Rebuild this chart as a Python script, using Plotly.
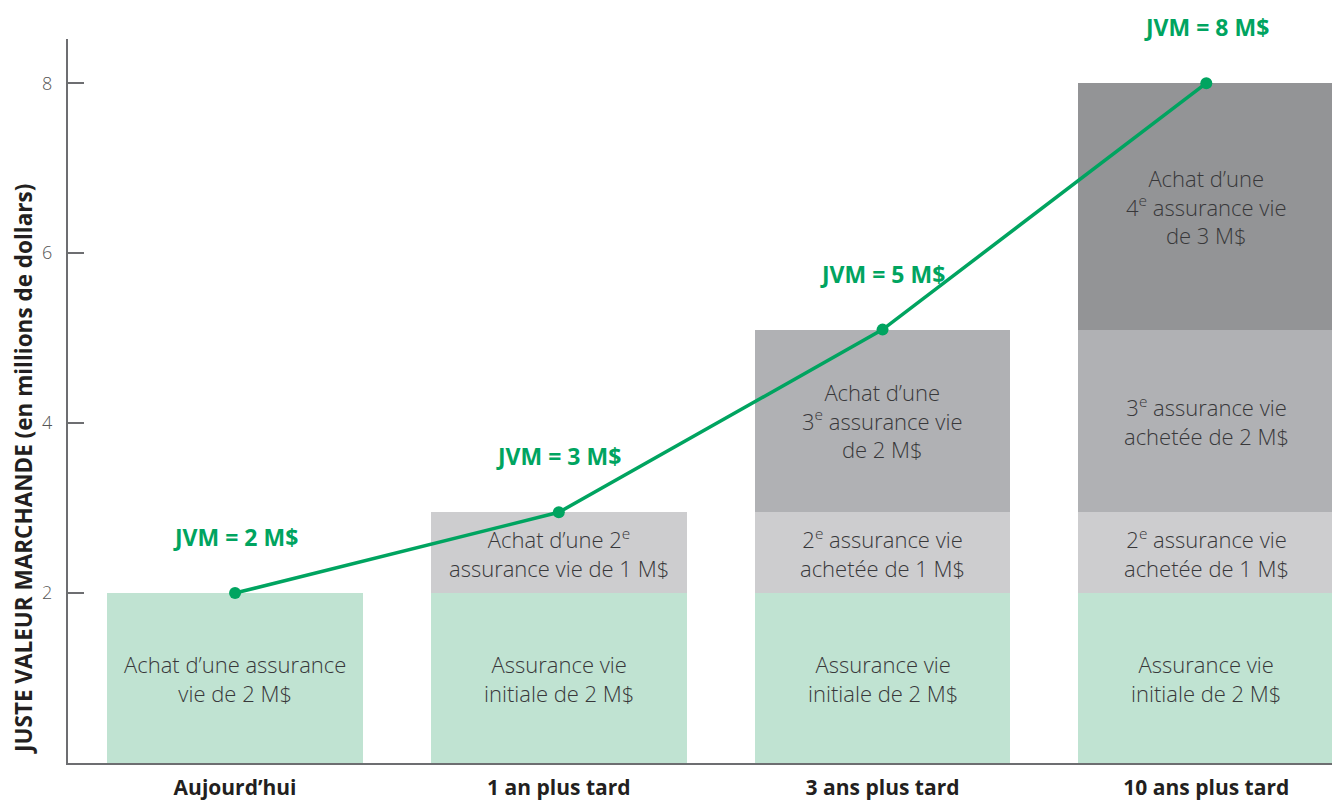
import plotly.graph_objects as go

categories = ["Aujourd’hui", "1 an plus tard", "3 ans plus tard", "10 ans plus tard"]
x_pos = [0, 1, 2, 3]
seg_initial = [2.0, 2.0, 2.0, 2.0]
seg_second = [0.0, 0.95, 0.95, 0.95]
seg_third = [0.0, 0.0, 2.15, 2.15]
seg_fourth = [0.0, 0.0, 0.0, 2.9]
jvm_values = [2.0, 2.95, 5.1, 8.0]
jvm_labels = ["JVM = 2 M$", "JVM = 3 M$", "JVM = 5 M$", "JVM = 8 M$"]

text_initial = ["Achat d’une assurance<br>vie de 2 M$", "Assurance vie<br>initiale de 2 M$",
                "Assurance vie<br>initiale de 2 M$", "Assurance vie<br>initiale de 2 M$"]
text_second = ["", "Achat d’une 2<sup>e</sup><br>assurance vie de 1 M$",
               "2<sup>e</sup> assurance vie<br>achetée de 1 M$", "2<sup>e</sup> assurance vie<br>achetée de 1 M$"]
text_third = ["", "", "Achat d’une<br>3<sup>e</sup> assurance vie<br>de 2 M$",
              "3<sup>e</sup> assurance vie<br>achetée de 2 M$"]
text_fourth = ["", "", "", "Achat d’une<br>4<sup>e</sup> assurance vie<br>de 3 M$"]

FONT = "Open Sans"
GREEN = "#00a460"
TEXT = "#38383a"
AXIS = "#6d6e71"

segments = [
    (seg_initial, text_initial, "#c0e3d2"),
    (seg_second, text_second, "#cdcdcf"),
    (seg_third, text_third, "#b0b1b4"),
    (seg_fourth, text_fourth, "#939496"),
]

fig = go.Figure()
for vals, _, col in segments:
    fig.add_trace(go.Bar(x=x_pos, y=vals, width=0.79, marker=dict(color=col, line=dict(width=0)),
                         showlegend=False, hoverinfo="skip"))

fig.add_trace(go.Scatter(x=x_pos, y=jvm_values, mode="lines+markers",
                         line=dict(color=GREEN, width=3.5),
                         marker=dict(color=GREEN, size=12), showlegend=False))

annotations = []
for i in range(len(x_pos)):
    base = 0.0
    for vals, texts, _ in segments:
        v = vals[i]
        if v > 0 and texts[i]:
            annotations.append(dict(x=x_pos[i], y=base + v / 2, xref="x", yref="y", text=texts[i],
                                    showarrow=False, align="center",
                                    font=dict(family=FONT, size=22, color=TEXT, weight=300)))
        base += v

for i in range(len(x_pos)):
    annotations.append(dict(x=x_pos[i], y=jvm_values[i], xref="x", yref="y", yshift=56,
                            text="<b>" + jvm_labels[i] + "</b>", showarrow=False,
                            font=dict(family=FONT, size=23, color=GREEN)))

annotations.append(dict(x=-0.0346, y=3.46, xref="paper", yref="y", textangle=-90,
                        xanchor="center", yanchor="middle",
                        text="<b>JUSTE VALEUR MARCHANDE (en millions de dollars)</b>",
                        showarrow=False, font=dict(family=FONT, size=22.5, color="#231f20")))

# The page body adds an 8px offset; the figure is sized/margined to compensate.
fig.update_layout(
    width=1332, height=792,
    margin=dict(l=60, r=0, t=31, b=37, autoexpand=False),
    paper_bgcolor="white", plot_bgcolor="white",
    barmode="stack", bargap=0,
    annotations=annotations,
    font=dict(family=FONT),
)
fig.update_xaxes(range=[-0.516, 3.413], tickvals=x_pos,
                 ticktext=["<b>" + c + "</b>" for c in categories],
                 tickfont=dict(family=FONT, size=21, color="#231f20"),
                 showgrid=False, zeroline=False, showline=True, linecolor=AXIS, linewidth=2,
                 ticks="", ticklabelstandoff=5, automargin=False)
fig.update_yaxes(range=[0, 8.52], tickvals=[2, 4, 6, 8],
                 tickfont=dict(family=FONT, size=18, color="#555555", weight=300),
                 showgrid=False, zeroline=False, showline=True, linecolor=AXIS, linewidth=2,
                 ticks="inside", ticklen=16, tickwidth=2, tickcolor=AXIS, ticklabelstandoff=10,
                 automargin=False)

fig.write_html("out.html")
